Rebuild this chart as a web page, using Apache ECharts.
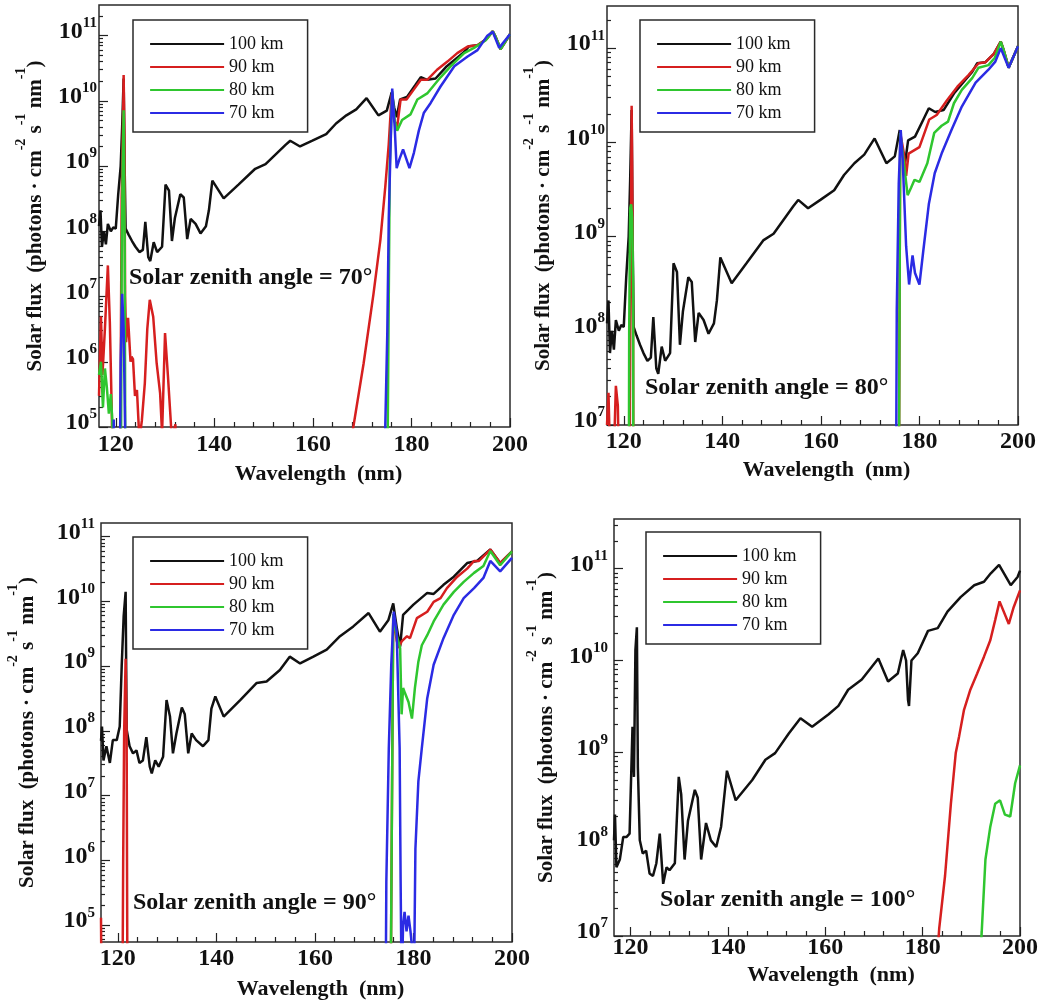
<!DOCTYPE html>
<html><head><meta charset="utf-8">
<script src="https://cdn.jsdelivr.net/npm/echarts@6/dist/echarts.min.js"></script>
<style>html,body{margin:0;padding:0;background:#fff;}#c{width:1041px;height:1002px;}</style>
</head><body><div id="c"></div>
<script>
// ---------- DATA: [wavelength (nm), solar flux (photons cm^-2 s^-1 nm^-1)] ----------
const seriesNames = ['100 km', '90 km', '80 km', '70 km'];
const xTickMajor = [120, 140, 160, 180, 200];
const xTickMinor = [124, 128, 132, 136, 144, 148, 152, 156, 164, 168, 172, 176, 184, 188, 192, 196];
const yDecades = [1e4, 1e5, 1e6, 1e7, 1e8, 1e9, 1e10, 1e11, 1e12];
const yMinorMultipliers = [2, 3, 4, 5, 6, 7, 8, 9];
const zenithLabels = ['Solar zenith angle = 70°', 'Solar zenith angle = 80°', 'Solar zenith angle = 90°', 'Solar zenith angle = 100°'];

// 100 km curve, SZA 70° and 80° (identical in both panels)
const flux100_sza70_80 = [
[116.6,1.2e8],[116.9,2.1e8],[117.2,5.8e7],[117.6,1.0e8],[118.0,6.3e7],[118.4,1.3e8],[119.0,1.0e8],[119.5,1.15e8],
[120.0,1.1e8],[120.5,3.7e8],[121.0,1.0e9],[121.3,4.0e9],[121.6,2.2e10],[121.8,1.0e9],[122.0,1.1e8],[122.6,8.9e7],
[123.3,7.1e7],[124.0,5.8e7],[124.8,4.8e7],[125.5,5.2e7],[126.0,1.4e8],[126.6,4.0e7],[127.0,3.5e7],[127.7,6.8e7],
[128.4,4.8e7],[129.4,5.8e7],[130.1,5.2e8],[130.8,4.2e8],[131.4,7.1e7],[132.0,1.6e8],[133.1,3.7e8],[133.8,3.3e8],
[134.5,7.6e7],[135.2,1.55e8],[136.2,1.3e8],[137.2,9.3e7],[138.3,1.2e8],[138.9,2.1e8],[139.6,6.0e8],[141.9,3.2e8],
[144.9,5.2e8],[148.3,9.1e8],[150.4,1.07e9],[154.4,2.1e9],[155.4,2.45e9],[157.4,2.0e9],[159.9,2.45e9],[162.7,3.1e9],
[164.7,4.5e9],[166.8,6.0e9],[168.8,7.4e9],[170.9,1.1e10],[173.3,6.0e9],[175.0,7.1e9],[176.0,1.35e10],[176.5,7.9e9],
[177.0,5.6e9],[177.7,1.05e10],[179.1,1.15e10],[180.8,1.75e10],[181.9,2.3e10],[183.2,2.1e10],[184.9,2.2e10],[187.0,3.3e10],
[189.3,4.6e10],[190.7,5.6e10],[191.7,6.9e10],[193.4,7.1e10],[195.1,8.7e10],[196.5,1.17e11],[197.1,9.5e10],[198.1,6.2e10],[200.0,1.05e11]
];
const flux90_sza70 = [
[116.6,3e5],[117.0,5.0e6],[117.3,6.3e5],[117.8,3.2e6],[118.4,3.0e7],[118.8,4.0e6],[119.2,1.6e5],[119.5,1e3],[120.8,1e3],
[121.2,3.2e8],[121.5,6.3e9],[121.6,2.5e10],[121.75,3.2e9],[121.9,1.0e7],[122.1,2.0e6],[122.5,4.7e6],[123.0,1.0e6],
[123.2,1.2e6],[123.5,1.1e6],[123.9,3.0e5],[124.3,3.7e5],[124.8,6.3e4],[125.3,1.26e5],[125.9,4.7e5],[126.4,3.2e6],
[126.9,8.9e6],[127.6,4.9e6],[128.3,9.5e5],[129.0,3.3e5],[129.4,7.9e4],[130.0,2.75e6],[130.6,5.9e5],[131.4,6.3e4],
[132.1,1.1e5],[132.5,1e3],[167.5,1e3],[168.0,8.0e4],[170.3,9.5e5],[172.3,1.1e7],[173.7,7.4e7],[174.7,4.9e8],[175.4,2.2e9],
[176.0,1.26e10],[176.5,5.0e9],[177.1,4.0e9],[177.8,1.05e10],[179.0,1.05e10],[180.5,1.5e10],[181.9,2.1e10],[183.2,2.1e10],
[185.2,3.0e10],[187.3,4.0e10],[189.3,5.4e10],[191.4,6.8e10],[193.4,7.1e10],[195.1,8.7e10],[196.5,1.17e11],[197.1,9.5e10],
[198.1,6.2e10],[200.0,1.05e11]
];
const flux80_sza70 = [
[116.6,6.3e5],[117.0,1.0e6],[117.4,2.0e5],[117.8,7.9e5],[118.2,4.0e5],[118.6,1.6e5],[119.0,3.2e5],[119.3,1.26e5],[119.6,1e3],
[121.0,1e3],[121.2,3.2e7],[121.4,1.0e9],[121.6,7.2e9],[121.8,1.0e8],[122.0,1e3],[175.0,1e3],[175.6,1.0e9],[176.1,1.4e10],
[176.6,5.0e9],[177.1,3.5e9],[178.1,5.1e9],[179.8,6.2e9],[181.2,1.05e10],[183.2,1.3e10],[185.9,2.3e10],[188.0,3.4e10],
[190.7,5.4e10],[192.7,6.5e10],[195.1,8.5e10],[196.5,1.17e11],[197.1,9.5e10],[198.1,6.2e10],[200.0,1.05e11]
];
const flux70_sza70 = [
[116.6,1e3],[119.3,1e3],[119.6,1.3e5],[119.9,1e3],[120.7,1e3],[121.0,1.0e6],[121.3,1.1e7],[121.6,3.2e6],[121.9,1.0e5],[122.2,1e3],
[174.4,1e4],[175.1,2.75e6],[175.4,1.6e8],[175.8,2.5e9],[176.1,1.55e10],[176.6,4.0e9],[177.0,9.3e8],[177.6,1.3e9],[178.3,1.8e9],
[179.6,9.3e8],[180.5,1.6e9],[181.5,3.5e9],[182.5,6.5e9],[183.9,9.3e9],[185.9,1.66e10],[188.7,3.4e10],[191.4,4.8e10],
[193.4,6.0e10],[195.4,1.0e11],[196.5,1.15e11],[197.8,6.5e10],[200.0,1.05e11]
];
const flux90_sza80 = [
[116.6,1.0e7],[116.9,2.2e7],[117.3,3.2e6],[117.9,3.2e6],[118.4,2.6e7],[118.8,1.6e7],[119.2,1.0e6],[119.5,1e3],[121.0,1e3],
[121.3,9.3e7],[121.5,3.2e9],[121.6,2.45e10],[121.7,6.3e9],[121.9,1.0e8],[122.1,1e3],[175.6,1e3],[176.1,1.26e10],[176.8,7.9e9],
[177.3,4.4e9],[177.8,7.6e9],[180.0,8.9e9],[182.0,1.75e10],[183.5,1.95e10],[185.6,2.8e10],[187.7,3.9e10],[190.0,5.2e10],
[192.0,6.9e10],[193.4,7.1e10],[195.1,8.7e10],[196.5,1.17e11],[197.1,9.5e10],[198.1,6.2e10],[200.0,1.05e11]
];
const flux80_sza80 = [
[116.6,1e3],[120.9,1e3],[121.1,1.0e8],[121.3,2.0e9],[121.5,2.2e9],[121.7,1.6e9],[121.9,3.2e8],[122.0,1e3],[175.6,1e3],
[176.1,1.26e10],[176.8,6.3e9],[177.6,2.75e9],[178.3,3.3e9],[179.0,4.0e9],[180.0,3.8e9],[181.6,6.0e9],[183.0,1.26e10],
[184.5,1.5e10],[185.8,1.66e10],[187.0,2.6e10],[188.6,3.6e10],[190.7,4.8e10],[192.0,6.2e10],[194.0,6.6e10],[195.3,7.9e10],
[196.5,1.17e11],[197.1,9.5e10],[198.1,6.2e10],[200.0,1.05e11]
];
const flux70_sza80 = [
[116.6,1e3],[175.0,1e3],[175.4,1.66e8],[175.8,3.6e9],[176.2,1.35e10],[176.6,6.5e9],[177.0,6.3e9],[177.3,7.9e8],[177.9,3.1e8],
[178.6,6.3e8],[179.1,4.1e8],[180.0,3.1e8],[180.8,7.2e8],[181.9,2.2e9],[183.1,4.7e9],[184.5,7.6e9],[186.5,1.35e10],
[188.6,2.4e10],[191.4,4.3e10],[194.0,5.9e10],[195.4,7.2e10],[196.5,1.0e11],[198.1,6.2e10],[200.0,1.05e11]
];
const flux100_sza90 = [
[116.6,7.0e7],[116.8,1.17e8],[117.1,3.5e7],[117.7,5.8e7],[118.4,3.2e7],[119.0,7.2e7],[119.8,7.2e7],[120.4,1.17e8],
[120.8,1.0e9],[121.2,5.9e9],[121.6,1.4e10],[121.8,1.05e8],[122.4,5.8e7],[123.1,4.5e7],[123.8,5.0e7],[124.4,3.2e7],
[125.1,3.5e7],[125.8,8.0e7],[126.5,2.8e7],[126.9,2.2e7],[127.6,3.5e7],[128.3,2.8e7],[129.2,4.0e7],[129.9,3.0e8],
[130.6,1.66e8],[131.2,4.5e7],[131.9,9.1e7],[133.0,2.3e8],[133.6,1.8e8],[134.3,4.5e7],[135.0,9.1e7],[135.9,7.2e7],
[137.3,5.8e7],[138.4,7.2e7],[139.0,2.2e8],[139.8,3.4e8],[141.5,1.66e8],[144.9,3.0e8],[148.2,5.5e8],[150.2,5.8e8],
[152.9,8.7e8],[154.9,1.4e9],[157.0,1.1e9],[159.7,1.4e9],[162.4,1.8e9],[165.1,2.9e9],[167.8,4.1e9],[170.9,6.6e9],
[173.2,3.4e9],[174.9,5.1e9],[175.9,9.3e9],[176.6,4.0e9],[177.3,2.0e9],[177.9,6.2e9],[180.0,8.9e9],[182.8,1.35e10],
[184.1,1.3e10],[186.1,1.8e10],[188.2,2.4e10],[190.9,3.9e10],[192.9,4.2e10],[195.6,6.3e10],[197.6,3.9e10],[200.0,5.9e10]
];
const flux90_sza90 = [
[116.6,1.3e5],[116.8,1e3],[120.9,1e3],[121.1,1.0e6],[121.3,1.0e8],[121.6,1.3e9],[121.8,1.0e8],[122.0,1e3],[175.3,1e3],
[175.9,6.3e9],[176.6,2.5e9],[177.0,1.9e9],[177.6,2.4e9],[178.7,2.9e9],[179.3,2.7e9],[180.7,5.5e9],[182.8,6.9e9],
[184.1,9.8e9],[185.5,1.12e10],[186.8,1.6e10],[188.9,2.4e10],[190.9,3.2e10],[192.3,4.2e10],[193.3,4.2e10],[195.6,6.3e10],
[197.6,3.9e10],[200.0,5.9e10]
];
const flux80_sza90 = [
[116.6,1e3],[175.3,1e3],[175.9,6.3e9],[176.6,3.0e9],[177.3,1.9e9],[177.6,1.8e8],[177.9,4.6e8],[178.3,3.8e8],[179.0,2.8e8],
[179.7,1.55e8],[180.3,4.6e8],[181.0,1.17e9],[181.7,2.1e9],[182.8,3.0e9],[184.1,4.9e9],[186.1,8.9e9],[188.2,1.4e10],
[190.2,2.0e10],[192.3,2.75e10],[194.2,3.5e10],[195.6,6.0e10],[197.6,3.6e10],[200.0,5.9e10]
];
const flux70_sza90 = [
[116.6,1e3],[174.3,1e3],[174.5,4.7e5],[175.0,5.4e7],[175.5,1.05e9],[176.0,6.9e9],[176.6,3.4e9],[177.2,5.4e7],[177.4,4.7e5],
[177.6,1e4],[177.9,1.0e5],[178.2,1.6e5],[178.6,8e4],[179.0,1.4e5],[179.4,8e4],[179.8,4e4],[180.1,1e4],[180.4,1.5e6],
[181.0,1.66e7],[181.7,5.4e7],[182.8,3.2e8],[184.1,1.05e9],[186.1,2.7e9],[188.2,6.2e9],[190.2,1.12e10],[192.3,1.6e10],
[194.2,2.3e10],[195.6,4.2e10],[197.6,2.9e10],[200.0,4.7e10]
];
const flux100_sza100 = [
[116.6,1.1e8],[116.8,2.1e8],[117.1,5.6e7],[117.8,6.8e7],[118.5,1.2e8],[119.2,1.2e8],[119.8,1.3e8],[120.4,1.9e9],[120.7,5.4e8],
[121.0,1.3e10],[121.3,2.3e10],[121.5,6.9e8],[121.9,1.1e8],[122.5,7.9e7],[123.2,8.5e7],[123.9,4.8e7],[124.6,4.5e7],
[125.3,6.2e7],[126.0,1.3e8],[126.7,3.7e7],[127.4,5.6e7],[128.0,5.2e7],[129.1,6.2e7],[129.9,5.4e8],[130.4,3.5e8],
[131.1,6.8e7],[131.8,1.8e8],[133.2,3.9e8],[133.8,3.2e8],[134.5,6.8e7],[135.5,1.7e8],[136.5,1.1e8],[137.6,9.3e7],
[138.6,1.55e8],[139.8,6.3e8],[141.6,3.0e8],[145.0,5.0e8],[147.7,8.3e8],[149.7,9.8e8],[152.5,1.6e9],[154.9,2.35e9],
[157.3,1.9e9],[160.7,2.6e9],[162.7,3.2e9],[164.7,4.8e9],[167.5,6.2e9],[170.9,1.05e10],[172.9,5.9e9],[174.9,7.2e9],
[176.0,1.3e10],[176.6,1.0e10],[177.0,3.7e9],[177.2,3.2e9],[177.7,1.0e10],[179.0,1.2e10],[181.1,2.1e10],[183.1,2.25e10],
[185.1,3.4e10],[187.8,4.9e10],[190.6,6.6e10],[192.6,7.2e10],[194.0,8.9e10],[195.7,1.1e11],[198.1,6.6e10],[199.5,8.1e10],[200.0,9.5e10]
];
const flux90_sza100 = [
[182.9,5.0e6],[183.4,1.2e7],[184.6,4.5e7],[185.8,2.75e8],[186.8,9.8e8],[187.5,1.5e9],[188.5,2.9e9],[189.8,4.8e9],
[191.2,7.2e9],[192.6,1.1e10],[193.9,1.66e10],[194.9,2.75e10],[195.8,4.4e10],[197.7,2.5e10],[198.7,3.8e10],[200.0,5.8e10]
];
const flux80_sza100 = [
[191.8,5.0e6],[192.9,6.8e7],[193.9,1.55e8],[194.9,2.75e8],[195.9,3.0e8],[196.9,2.1e8],[198.0,2.0e8],[199.0,4.6e8],[200.0,7.2e8]
];
const flux70_sza100 = [];

// ---------- LAYOUT / STYLE ----------
const FONT = "'Liberation Serif','Times New Roman',serif";
const COLORS = ['#111111', '#d61f1f', '#2fc62f', '#2b2be4'];
const X_MIN = 116.6, X_MAX = 200;
const panels = [
  {grid:[99,5,411,422], ymin:1e5, ymax:2.95e11, legend:[133,20], note:[129,278], yNameGap:50, xNameGap:36, xLabelMargin:6, yLabelMargin:2,
   data:[flux100_sza70_80, flux90_sza70, flux80_sza70, flux70_sza70]},
  {grid:[607,6,411,419], ymin:1e7, ymax:2.8e11, legend:[640,20], note:[645,388], yNameGap:52, xNameGap:34, xLabelMargin:5, yLabelMargin:2,
   data:[flux100_sza70_80, flux90_sza80, flux80_sza80, flux70_sza80]},
  {grid:[101,523,411,419], ymin:5.5e4, ymax:1.62e11, legend:[133,537], note:[133,903], yNameGap:63, xNameGap:36, xLabelMargin:5, yLabelMargin:6,
   data:[flux100_sza90, flux90_sza90, flux80_sza90, flux70_sza90]},
  {grid:[614,519,409,417], ymin:1e7, ymax:3.47e11, legend:[646,532], note:[660,900], yNameGap:56, xNameGap:28, xLabelMargin:0, yLabelMargin:6,
   data:[flux100_sza100, flux90_sza100, flux80_sza100, flux70_sza100]}
];

const tickLine = {color:'#222', width:1.2};
const grids=[], xAxes=[], yAxes=[], series=[], legends=[], graphics=[];
panels.forEach((p, i) => {
  const inRange = v => v >= p.ymin * 0.999 && v <= p.ymax * 1.001;
  const majors = yDecades.filter(inRange);
  const minors = [];
  yDecades.forEach(d => yMinorMultipliers.forEach(k => { if (inRange(d * k)) minors.push(d * k); }));

  grids.push({left:p.grid[0], top:p.grid[1], width:p.grid[2], height:p.grid[3], show:true,
    borderColor:'#2a2a2a', borderWidth:1.5, backgroundColor:'transparent'});
  xAxes.push({gridIndex:i, type:'value', position:'bottom', min:X_MIN, max:X_MAX,
    axisLine:{show:false}, splitLine:{show:false},
    axisTick:{show:true, inside:true, length:5, customValues:xTickMinor, lineStyle:tickLine},
    axisLabel:{show:false}});
  xAxes.push({gridIndex:i, type:'value', position:'bottom', min:X_MIN, max:X_MAX,
    name:'Wavelength  (nm)', nameLocation:'middle', nameGap:p.xNameGap,
    nameTextStyle:{fontFamily:FONT, fontSize:22, fontWeight:'bold', color:'#111', padding:[0,0,0,28]},
    axisLine:{show:false}, splitLine:{show:false},
    axisTick:{show:true, inside:true, length:9, customValues:xTickMajor, lineStyle:tickLine},
    axisLabel:{customValues:xTickMajor, margin:p.xLabelMargin, fontFamily:FONT, fontSize:24, fontWeight:'bold', color:'#111'}});
  yAxes.push({gridIndex:i, type:'log', logBase:10, position:'left', min:p.ymin, max:p.ymax,
    name:'{m|Solar flux  (photons · cm}{s|-2}{m| s}{s|-1}{m| nm}{s|-1}{m|)}',
    nameLocation:'middle', nameGap:p.yNameGap,
    nameTextStyle:{rich:{
      m:{fontFamily:FONT, fontSize:21, fontWeight:'bold', color:'#111', lineHeight:24, verticalAlign:'bottom'},
      s:{fontFamily:FONT, fontSize:14, fontWeight:'bold', color:'#111', lineHeight:14, padding:[0,0,26,0]}}},
    axisLine:{show:false}, splitLine:{show:false},
    axisTick:{show:true, inside:true, length:9, customValues:majors, lineStyle:tickLine},
    axisLabel:{customValues:majors, margin:p.yLabelMargin, padding:[0,0,8,0],
      formatter: v => '{b|10}{s|' + Math.round(Math.log10(v)) + '}',
      rich:{
        b:{fontFamily:FONT, fontSize:24, fontWeight:'bold', color:'#111', lineHeight:24, verticalAlign:'bottom'},
        s:{fontFamily:FONT, fontSize:15, fontWeight:'bold', color:'#111', lineHeight:15, padding:[0,0,17,0]}}}});
  yAxes.push({gridIndex:i, type:'log', logBase:10, position:'left', min:p.ymin, max:p.ymax,
    axisLine:{show:false}, splitLine:{show:false}, axisLabel:{show:false},
    axisTick:{show:true, inside:true, length:4, customValues:minors, lineStyle:tickLine}});

  p.data.forEach((d, k) => {
    series.push({type:'line', name:seriesNames[k], xAxisIndex:2*i, yAxisIndex:2*i, data:d,
      symbol:'none', showSymbol:false, clip:true, animation:false,
      lineStyle:{color:COLORS[k], width:2.5}, itemStyle:{color:COLORS[k]}, z:2+k});
  });

  legends.push({data:seriesNames, orient:'vertical', left:p.legend[0], top:p.legend[1],
    itemWidth:74, itemHeight:17, itemGap:5, padding:[15,24,10,16], selectedMode:false,
    backgroundColor:'#fff', borderColor:'#2a2a2a', borderWidth:1.5,
    itemStyle:{opacity:0}, lineStyle:{width:2.2},
    textStyle:{fontFamily:FONT, fontSize:18, color:'#111', lineHeight:17}});

  graphics.push({type:'text', x:p.note[0], y:p.note[1], z:10,
    style:{text:zenithLabels[i], fontFamily:FONT, fontSize:24, fontWeight:'bold', fill:'#111', align:'left', verticalAlign:'middle'}});
});

const chart = echarts.init(document.getElementById('c'));
chart.setOption({animation:false, backgroundColor:'#fff', grid:grids, xAxis:xAxes, yAxis:yAxes,
  series:series, legend:legends, graphic:graphics});
</script></body></html>
